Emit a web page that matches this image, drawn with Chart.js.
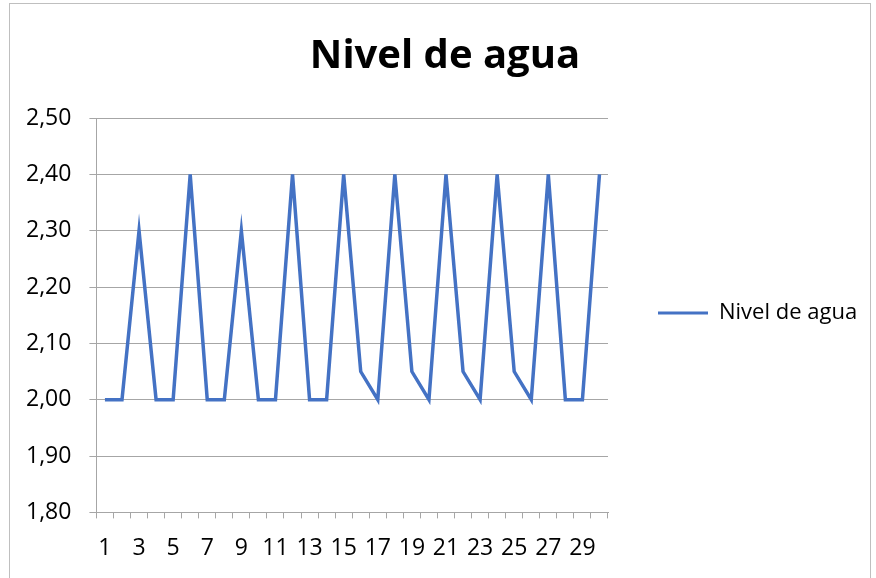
<!DOCTYPE html>
<html>
<head>
<meta charset="utf-8">
<script src="https://cdn.jsdelivr.net/npm/chart.js@4/dist/chart.umd.min.js"></script>
<style>
  html, body { margin: 0; padding: 0; background: #fff; }
  #wrap { position: relative; width: 876px; height: 578px; overflow: hidden; }
  #frame { position: absolute; left: 9px; top: 3px; width: 862px; height: 620px; border: 1px solid #bfbfbf; box-sizing: border-box; }
  #myChart { position: absolute; left: 0; top: 0; }
</style>
</head>
<body>
<div id="wrap">
  <div id="frame"></div>
  <canvas id="myChart" width="876" height="578"></canvas>
</div>
<script>
// datos
const dias = [1, 2, 3, 4, 5, 6, 7, 8, 9, 10, 11, 12, 13, 14, 15,
              16, 17, 18, 19, 20, 21, 22, 23, 24, 25, 26, 27, 28, 29, 30];
const nivel = [2.00, 2.00, 2.30, 2.00, 2.00, 2.40, 2.00, 2.00, 2.30, 2.00,
               2.00, 2.40, 2.00, 2.00, 2.40, 2.05, 2.00, 2.40, 2.05, 2.00,
               2.40, 2.05, 2.00, 2.40, 2.05, 2.00, 2.40, 2.00, 2.00, 2.40];
const yTicks = [1.80, 1.90, 2.00, 2.10, 2.20, 2.30, 2.40, 2.50];

const azul = '#4472C4';
const gris = '#a6a6a6';
const LEGEND_W = 258;
const LEGEND_DY = 24;

// la leyenda de la derecha necesita mas ancho del que chart.js le da por defecto
const legendWidth = {
    id: 'legendWidth',
    afterInit(chart) {
        const lg = chart.legend;
        const fit = lg.fit;
        lg.fit = function () {
            fit.call(this);
            this.width = LEGEND_W;
        };
        const draw = lg.draw;
        lg.draw = function () {
            const c = this.ctx;
            c.save();
            c.translate(0, LEGEND_DY);
            draw.call(this);
            c.restore();
        };
    }
};

const ctx = document.getElementById('myChart');
const myChart = new Chart(ctx, {
    type: 'line',
    data: {
        labels: dias,
        datasets: [
            {
                label: 'Nivel de agua',
                data: nivel,
                borderColor: azul,
                backgroundColor: azul,
                borderWidth: 3.5,
                pointRadius: 0,
                tension: 0,
            }
        ],
    },
    options: {
        responsive: false,
        animation: false,
        layout: {
            padding: { left: 24, right: 10, top: 0, bottom: 0 }
        },
        plugins: {
            title: {
                display: true,
                text: 'Nivel de agua',
                color: '#000',
                font: { family: 'Open Sans', size: 40, weight: 'bold' },
                padding: { top: 33, bottom: 37 },
            },
            legend: {
                position: 'right',
                labels: {
                    color: '#000',
                    font: { family: 'Open Sans', size: 22 },
                    boxWidth: 50,
                    boxHeight: 3,
                    padding: 50,
                    generateLabels: (chart) => Chart.defaults.plugins.legend.labels.generateLabels(chart)
                        .map(l => Object.assign(l, { lineWidth: 0, fillStyle: azul })),
                },
            },
            tooltip: { enabled: false },
        },
        scales: {
            x: {
                offset: true,
                grid: {
                    offset: true,
                    drawOnChartArea: false,
                    drawTicks: true,
                    tickLength: 6,
                    color: gris,
                },
                border: { color: gris },
                ticks: {
                    autoSkip: false,
                    maxRotation: 0,
                    padding: 16,
                    color: '#000',
                    font: { family: 'Open Sans', size: 23 },
                    callback: (v, i) => (i % 2 === 0 ? String(dias[i]) : ''),
                },
            },
            y: {
                min: yTicks[0],
                max: yTicks[yTicks.length - 1],
                afterBuildTicks: (axis) => { axis.ticks = yTicks.map(v => ({ value: v })); },
                afterFit: (axis) => { axis.width -= 16; },
                grid: { color: gris, tickLength: 7 },
                border: { color: gris },
                ticks: {
                    padding: 18,
                    color: '#000',
                    font: { family: 'Open Sans', size: 23 },
                    callback: (v) => Number(v).toFixed(2).replace('.', ','),
                },
            },
        },
    },
    plugins: [legendWidth],
});
</script>
</body>
</html>
